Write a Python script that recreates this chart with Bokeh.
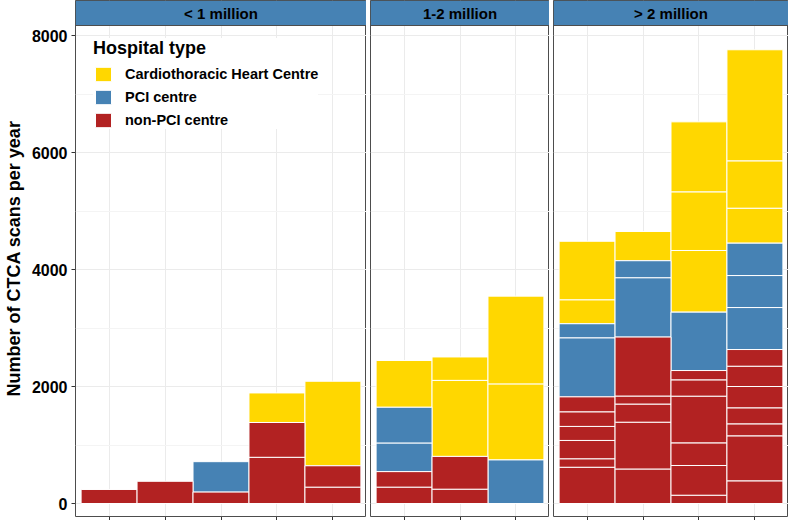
from bokeh.plotting import figure
from bokeh.models import Range1d, FixedTicker, Legend, LegendItem, ColumnDataSource
from bokeh.layouts import row
from bokeh.embed import file_html
from bokeh.resources import INLINE
from bokeh.core.properties import value

# ---------------- data ----------------
panel_labels = ["< 1 million", "1-2 million", "> 2 million"]
n_bars = [5, 3, 4]
type_names = ["Cardiothoracic Heart Centre", "PCI centre", "non-PCI centre"]
type_colors = ["#FFD700", "#4682B4", "#B22222"]
y_ticks = [0, 2000, 4000, 6000, 8000]
y_minor = [1000, 3000, 5000, 7000]

C, P, N = type_names

# panel 1: < 1 million  (segments listed bottom to top per bar)
p1_bar = [1, 2, 3, 3, 4, 4, 4, 5, 5, 5]
p1_type = [N, N, N, P, N, N, C, N, N, C]
p1_scans = [240, 380, 195, 520, 790, 595, 505, 280, 365, 1445]

# panel 2: 1-2 million
p2_bar = [1, 1, 1, 1, 1, 2, 2, 2, 2, 3, 3, 3]
p2_type = [N, N, P, P, C, N, N, C, C, P, C, C]
p2_scans = [280, 265, 490, 610, 800, 245, 560, 1300, 400, 745, 1300, 1500]

# panel 3: > 2 million
p3_bar = [1] * 10 + [2] * 8 + [3] * 10 + [4] * 13
p3_type = ([N] * 6 + [P] * 2 + [C] * 2 +
           [N] * 5 + [P] * 2 + [C] * 1 +
           [N] * 6 + [P] * 1 + [C] * 3 +
           [N] * 7 + [P] * 3 + [C] * 3)
p3_scans = [620, 145, 313, 240, 250, 255, 1010, 240, 410, 1000,
            590, 800, 310, 137, 1008, 1015, 290, 500,
            142, 508, 387, 798, 279, 159, 998, 1054, 1003, 1196,
            388, 769, 205, 274, 364, 347, 285, 718, 547, 553, 598, 810, 1898]

panels = [(p1_bar, p1_type, p1_scans), (p2_bar, p2_type, p2_scans), (p3_bar, p3_type, p3_scans)]


def stack(bars, types, scans):
    tops = {}
    out = {t: dict(x=[], bottom=[], top=[]) for t in type_names}
    for b, t, s in zip(bars, types, scans):
        base = tops.get(b, 0)
        out[t]["x"].append(b)
        out[t]["bottom"].append(base)
        out[t]["top"].append(base + s)
        tops[b] = base + s
    return out


# ---------------- layout ----------------
FONT = "Liberation Sans"
frame_h = 516
strip_px = 25
y0, y1 = -222, 8171
y_top = y1 + strip_px * (y1 - y0) / (frame_h - strip_px)
unit_px = 56.0

figs = []
for i, (bars, types, scans) in enumerate(panels):
    n = n_bars[i]
    fw = round((n + 0.2) * unit_px)
    p = figure(frame_width=fw, frame_height=frame_h,
               x_range=Range1d(0.4, n + 0.6), y_range=Range1d(y0, y_top),
               output_backend="svg", toolbar_location=None,
               y_axis_location="left" if i == 0 else None,
               min_border_left=72 if i == 0 else 0, min_border_right=0,
               min_border_top=0, min_border_bottom=0,
               outline_line_color="#4d4d4d", outline_line_width=1,
               background_fill_color="white", border_fill_color="white")

    # grids
    p.xgrid.grid_line_color = "#ebebeb"
    p.ygrid.ticker = FixedTicker(ticks=y_ticks, minor_ticks=y_minor)
    p.ygrid.grid_line_color = "#ebebeb"
    p.ygrid.minor_grid_line_color = "#f4f4f4"

    # x axis: tick marks only
    p.xaxis.ticker = FixedTicker(ticks=list(range(1, n + 1)))
    p.xaxis.major_label_text_font_size = "0px"
    p.xaxis.major_label_text_color = None
    p.xaxis.major_label_text_alpha = 0
    p.xaxis.major_label_standoff = 0
    p.xaxis.major_tick_out = 4
    p.xaxis.major_tick_in = 0
    p.xaxis.minor_tick_out = 0
    p.xaxis.minor_tick_in = 0
    p.xaxis.axis_line_color = None
    p.xaxis.major_tick_line_color = "#333333"

    if i == 0:
        p.yaxis.ticker = FixedTicker(ticks=y_ticks)
        p.yaxis.axis_label = "Number of CTCA scans per year"
        p.yaxis.axis_label_text_font = FONT
        p.yaxis.axis_label_text_font_style = "bold"
        p.yaxis.axis_label_text_font_size = "18px"
        p.yaxis.axis_label_text_color = "black"
        p.yaxis.axis_label_standoff = 5
        p.yaxis.major_label_text_font = FONT
        p.yaxis.major_label_text_font_style = "bold"
        p.yaxis.major_label_text_font_size = "16px"
        p.yaxis.major_label_text_color = "black"
        p.yaxis.major_label_standoff = 4
        p.yaxis.axis_line_color = None
        p.yaxis.major_tick_out = 4
        p.yaxis.major_tick_in = 0
        p.yaxis.minor_tick_out = 0
        p.yaxis.minor_tick_in = 0
        p.yaxis.major_tick_line_color = "#333333"

    # bars
    st = stack(bars, types, scans)
    rends = {}
    for tname, col in zip(type_names, type_colors):
        d = st[tname]
        if not d["x"]:
            continue
        rends[tname] = p.vbar(x="x", bottom="bottom", top="top", width=1,
                              source=ColumnDataSource(d),
                              fill_color=col, line_color="white", line_width=1)

    # facet strip
    p.quad(left=[0.4], right=[n + 0.6], bottom=[y1], top=[y_top],
           fill_color="#4682B4", line_color="#4d4d4d", line_width=1)
    p.text(x=[(n + 1) / 2], y=[(y1 + y_top) / 2], text=[panel_labels[i]],
           text_align="center", text_baseline="middle",
           text_font=value(FONT), text_font_style="bold",
           text_font_size="15px", text_color="black")

    if i == 0:
        items = [LegendItem(label=t, renderers=[rends[t]]) for t in type_names]
        legend = Legend(items=items, location=(18, 387),
                        title="Hospital type",
                        title_text_font=FONT, title_text_font_style="bold",
                        title_text_font_size="18px", title_text_color="black",
                        title_standoff=6,
                        label_text_font=FONT, label_text_font_style="bold",
                        label_text_font_size="14.5px", label_text_color="black",
                        glyph_width=20, glyph_height=18, label_height=18,
                        label_standoff=12, spacing=5, padding=14,
                        border_line_color=None, background_fill_color="white",
                        background_fill_alpha=1.0, margin=0)
        p.add_layout(legend)

    figs.append(p)

layout = row(*figs, spacing=4)
open("out.html", "w").write(file_html(layout, INLINE))
